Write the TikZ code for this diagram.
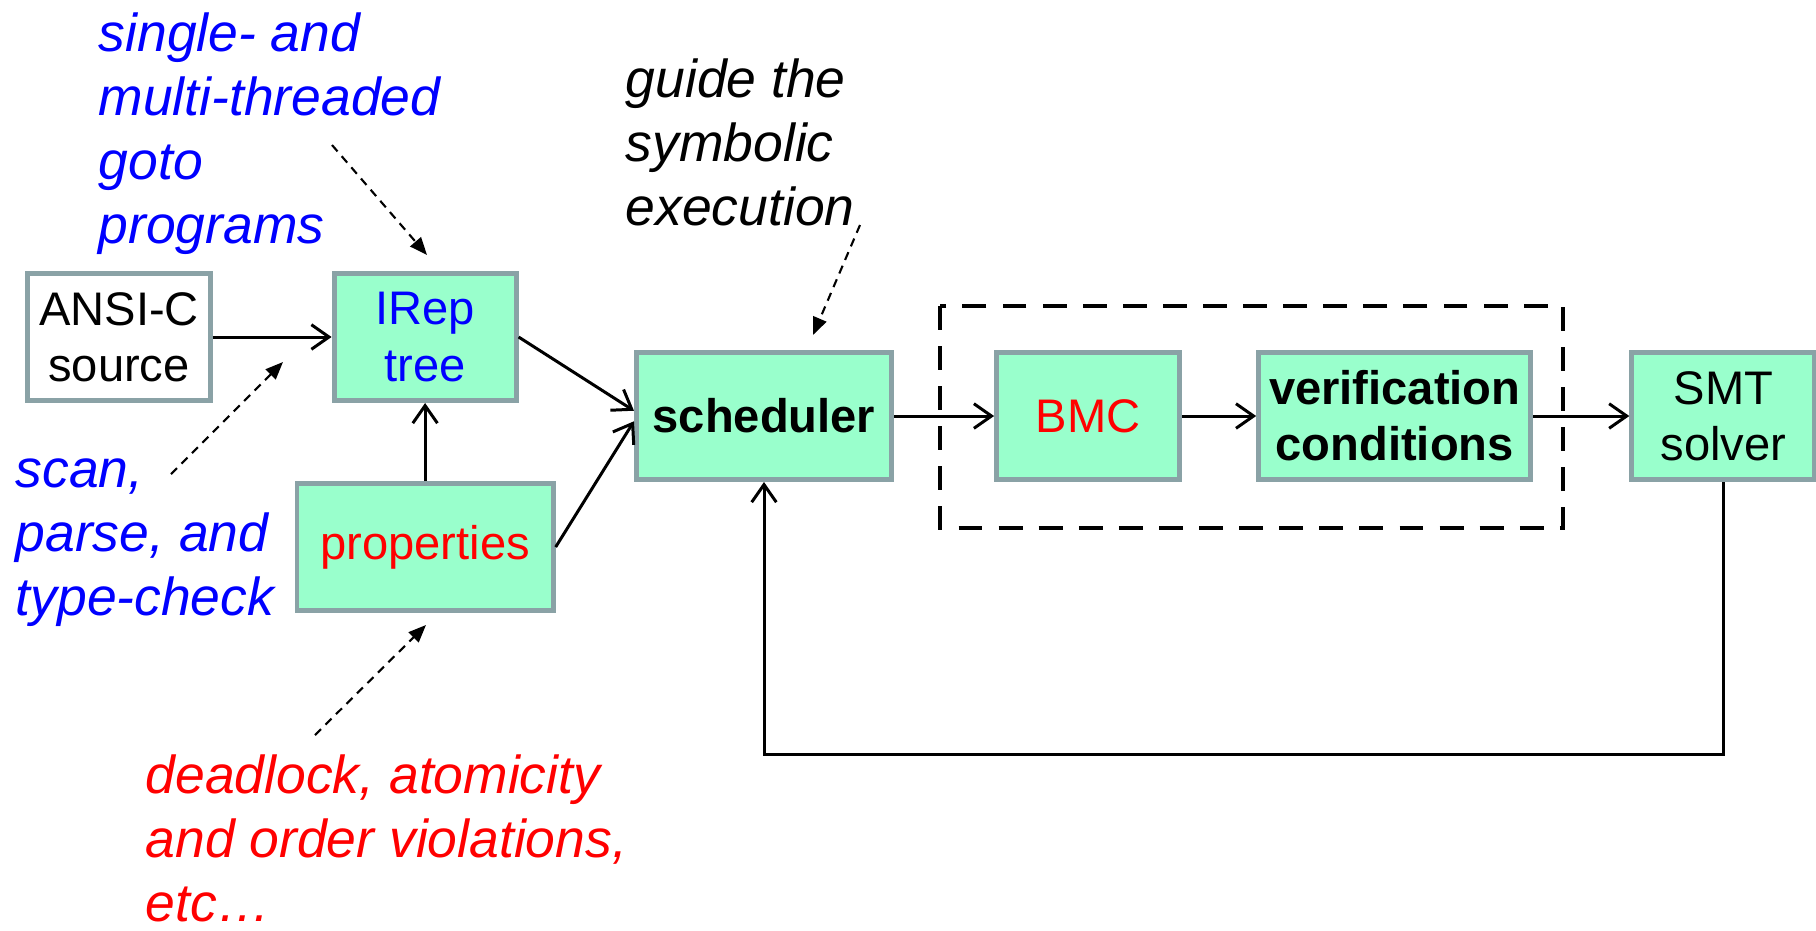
\documentclass[tikz,border=0pt]{standalone}
\usepackage{fontspec}
\setmainfont{Liberation Sans}
\usetikzlibrary{arrows.meta}
\usetikzlibrary{positioning}

\definecolor{boxfill}{HTML}{99FFCC}
\definecolor{boxline}{RGB}{138,162,166}
\definecolor{noteblue}{RGB}{0,0,255}
\definecolor{notered}{RGB}{255,0,0}

\newcommand{\boxfont}{\fontsize{13.4}{16}\selectfont}
\newcommand{\notefont}{\fontsize{15.2}{18.2}\selectfont\itshape}

\tikzset {
  % plain connector
  arr/.style = {
    draw = black,
    line width = 0.85pt,
    -{Straight Barb[length = 5pt, width = 7pt]}
  },
  % dashed pointer from a note to a box
  note arr/.style = {
    draw = black,
    line width = 0.6pt,
    dash pattern = on 2.4pt off 1.8pt,
    -{Triangle[length = 5pt, width = 4pt]}
  },
  % frame round the BMC part
  group frame/.style = {
    draw = black,
    line width = 1.2pt,
    dash pattern = on 6.8pt off 4.6pt
  }
}
\tikzset {
  stage/.style = {
    draw = boxline,
    fill = boxfill,
    line width = 1.4pt,
    rectangle,
    align = center,
    inner sep = 0,
    minimum height = 1.27cm,
    font = \boxfont
  },
  % input file, not filled
  input/.style = {
    stage,
    fill = white
  },
  % free text
  note/.style = {
    align = left,
    inner sep = 0,
    anchor = north west,
    font = \notefont
  }
}

\begin{document}
\begin{tikzpicture}[x = 0.01cm, y = -0.01cm]
  \useasboundingbox (0, 0) rectangle (1816, 930);

  \node[input, minimum width = 1.82cm] (src) at (119, 337) {ANSI-C\\source};
  \node[stage, minimum width = 1.82cm, text = noteblue] (irep) [right = 1.19cm of src] {IRep\\tree};
  \node[stage, minimum width = 2.56cm, text = notered] (props) [below = 0.78cm of irep] {properties};
  \node[stage, minimum width = 2.55cm, font = \boxfont\bfseries] (sched) at (764, 416) {scheduler};
  \node[stage, minimum width = 1.83cm, text = notered] (bmc) [right = 1cm of sched] {BMC};
  \node[stage, minimum width = 2.72cm, font = \boxfont\bfseries] (vc) [right = 0.74cm of bmc] {verification\\conditions};
  \node[stage, minimum width = 1.83cm] (smt) [right = 0.96cm of vc] {SMT\\solver};

  \draw[group frame] (940, 306) rectangle (1563, 528);

  \node[note, text = noteblue] (progs) at (98, 12) {single- and\\multi-threaded\\goto\\programs};
  \node[note] (guide) at (625, 58) {guide the\\symbolic\\execution};
  \node[note, text = noteblue] (scan) at (15, 458) {scan,\\parse, and\\type-check};
  \node[note, text = notered] (viol) at (145, 754) {deadlock, atomicity\\and order violations,\\etc…};

  \coordinate (progs tail) at (332, 145);
  \coordinate (progs tip) at (427, 255);
  \coordinate (guide tail) at (860, 225);
  \coordinate (guide tip) at (813, 335);
  \coordinate (scan tail) at (171, 474);
  \coordinate (scan tip) at (283, 362);
  \coordinate (viol tail) at (315, 735);
  \coordinate (viol tip) at (426, 625);

  \draw[note arr] (progs tail) -- (progs tip);
  \draw[note arr] (guide tail) -- (guide tip);
  \draw[note arr] (scan tail) -- (scan tip);
  \draw[note arr] (viol tail) -- (viol tip);

  \draw[arr] (src) -- (irep);
  \draw[arr] (props.north -| irep.south) -- (irep.south);
  \draw[arr] (irep.east) -- ([yshift = 1.5pt]sched.west);
  \draw[arr] (props.east) -- ([yshift = -1.5pt]sched.west);
  \draw[arr] (sched) -- (bmc);
  \draw[arr] (bmc) -- (vc);
  \draw[arr] (vc) -- (smt);
  \draw[arr] (smt.south) -- ++(0, 272) -| (sched.south);
\end{tikzpicture}
\end{document}
